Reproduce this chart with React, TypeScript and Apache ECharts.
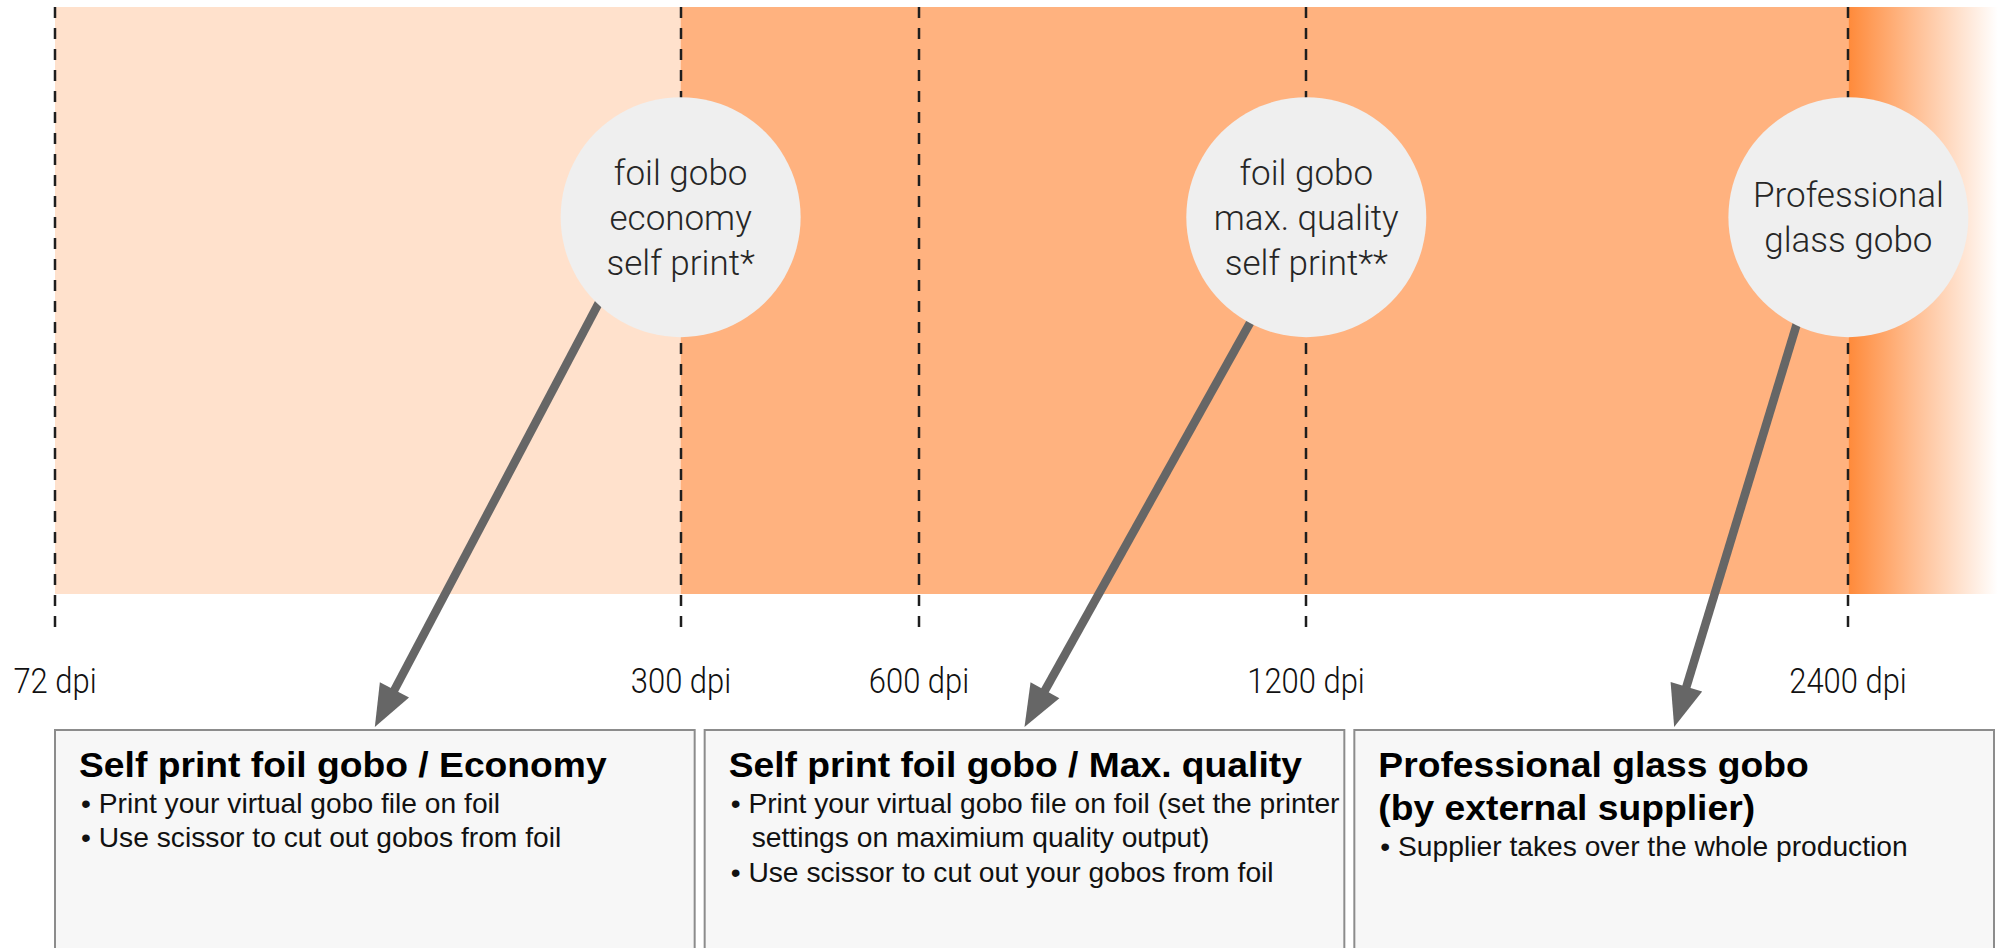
import React, { useEffect, useRef } from "react";
import * as echarts from "echarts";

// ---------------- data ----------------
const dpiLabels = ["72 dpi", "300 dpi", "600 dpi", "1200 dpi", "2400 dpi"];
// position of each resolution stop along the (0–100) resolution axis
const dpiPositions = [0, 32.2, 44.45, 64.4, 92.3];

// resolution bands, given by the stop index where they start / end (-1 = axis end)
const bandFrom = [0, 1, 4];
const bandTo = [1, 4, -1];

// the three production tiers
const tierBubbles = [
  "foil gobo\neconomy\nself print*",
  "foil gobo\nmax. quality\nself print**",
  "Professional\nglass gobo",
];
const tierStop = [1, 3, 4];
const tierTitles = [
  ["Self print foil gobo / Economy"],
  ["Self print foil gobo / Max. quality"],
  ["Professional glass gobo", "(by external supplier)"],
];
const tierBullets = [
  [["Print your virtual gobo file on foil"], ["Use scissor to cut out gobos from foil"]],
  [
    ["Print your virtual gobo file on foil (set the printer", "settings on maximium quality output)"],
    ["Use scissor to cut out your gobos from foil"],
  ],
  [["Supplier takes over the whole production"]],
];

// ---------------- layout / style ----------------
const L = {
  bubbleY: 0.642, // bubble centre in band (y-axis) units
  bubbleR: 120,
  dashExtend: 43,
  labelOffset: 87,
  boxOffset: 136,
  boxGap: 10,
  boxInset: 4,
  arrowAngles: [134, 118, 116],
};

const LIGHT = "'Roboto', 'Liberation Sans', sans-serif";
const SANS = "'Liberation Sans', Arial, sans-serif";

export default function App() {
  const ref = useRef<HTMLDivElement>(null);

  useEffect(() => {
    if (!ref.current) return;
    const chart = echarts.init(ref.current, undefined, { renderer: "svg" });

    const bandFills: any[] = [
      "#FFE1CC",
      "#FFB27F",
      new echarts.graphic.LinearGradient(0, 0, 1, 0, [
        { offset: 0, color: "#FF8A3A" },
        { offset: 0.5, color: "#FFC59E" },
        { offset: 1, color: "#FFFFFF" },
      ]),
    ];

    const boxGeom = (params: any, i: number) => {
      const cs = params.coordSys;
      const w = (cs.width - L.boxInset - 2 * L.boxGap) / 3;
      const x0 = cs.x + i * (w + L.boxGap);
      const top = cs.y + cs.height + L.boxOffset;
      return { x0, w, top };
    };

    const option: any = {
      animation: false,
      backgroundColor: "#ffffff",
      grid: { left: 55, right: 6, top: 7, bottom: 354 },
      xAxis: { type: "value", min: 0, max: 100, show: false },
      yAxis: { type: "value", min: 0, max: 1, show: false },
      series: [
        {
          type: "custom",
          name: "bands",
          z: 1,
          silent: true,
          encode: { x: [0, 1] },
          data: bandFrom.map((f, i) => [
            dpiPositions[f],
            bandTo[i] < 0 ? 100 : dpiPositions[bandTo[i]],
            i,
          ]),
          renderItem: (params: any, api: any) => {
            const p0 = api.coord([api.value(0), 1]);
            const p1 = api.coord([api.value(1), 0]);
            return {
              type: "rect",
              shape: { x: p0[0], y: p0[1], width: p1[0] - p0[0], height: p1[1] - p0[1] },
              style: { fill: bandFills[api.value(2)] },
            };
          },
        },
        {
          type: "custom",
          name: "stops",
          z: 2,
          silent: true,
          encode: { x: 0 },
          data: dpiPositions.map((p, i) => [p, i]),
          renderItem: (params: any, api: any) => {
            const t = api.coord([api.value(0), 1]);
            const b = api.coord([api.value(0), 0]);
            const x = Math.round(t[0]);
            return {
              type: "group",
              children: [
                {
                  type: "line",
                  shape: { x1: x, y1: t[1], x2: x, y2: b[1] + L.dashExtend },
                  style: { stroke: "#1E1E1E", lineWidth: 2.5, lineDash: [11, 10] },
                },
                {
                  type: "text",
                  x: x,
                  y: b[1] + L.labelOffset,
                  scaleX: 0.86,
                  style: {
                    text: dpiLabels[api.value(1)],
                    fontFamily: LIGHT,
                    fontWeight: 300,
                    fontSize: 36,
                    fill: "#111111",
                    align: "center",
                    verticalAlign: "middle",
                  },
                },
              ],
            };
          },
        },
        {
          type: "custom",
          name: "arrows",
          z: 3,
          silent: true,
          encode: { x: 0 },
          data: tierStop.map((s, i) => [dpiPositions[s], i]),
          renderItem: (params: any, api: any) => {
            const i = api.value(1);
            const c = api.coord([api.value(0), L.bubbleY]);
            const a = (L.arrowAngles[i] * Math.PI) / 180;
            const r = L.bubbleR - 4;
            const sx = c[0] + r * Math.cos(a);
            const sy = c[1] + r * Math.sin(a);
            const g = boxGeom(params, i);
            const tx = g.x0 + g.w / 2;
            const ty = g.top - 3;
            const dx = tx - sx;
            const dy = ty - sy;
            const len = Math.sqrt(dx * dx + dy * dy);
            const ux = dx / len;
            const uy = dy / len;
            const headLen = 42;
            const halfW = 16.5;
            const bx = tx - ux * headLen;
            const by = ty - uy * headLen;
            return {
              type: "group",
              children: [
                {
                  type: "line",
                  shape: { x1: sx, y1: sy, x2: bx + ux * 2, y2: by + uy * 2 },
                  style: { stroke: "#666666", lineWidth: 8.5 },
                },
                {
                  type: "polygon",
                  shape: {
                    points: [
                      [tx, ty],
                      [bx - uy * halfW, by + ux * halfW],
                      [bx + uy * halfW, by - ux * halfW],
                    ],
                  },
                  style: { fill: "#666666" },
                },
              ],
            };
          },
        },
        {
          type: "custom",
          name: "bubbles",
          z: 4,
          silent: true,
          encode: { x: 0 },
          data: tierStop.map((s, i) => [dpiPositions[s], i]),
          renderItem: (params: any, api: any) => {
            const c = api.coord([api.value(0), L.bubbleY]);
            return {
              type: "group",
              children: [
                {
                  type: "circle",
                  shape: { cx: c[0], cy: c[1], r: L.bubbleR },
                  style: { fill: "#EFEFEF" },
                },
                {
                  type: "text",
                  x: c[0],
                  y: c[1] + 1,
                  style: {
                    text: tierBubbles[api.value(1)],
                    fontFamily: LIGHT,
                    fontWeight: 300,
                    fontSize: 35,
                    lineHeight: 45,
                    fill: "#262626",
                    align: "center",
                    verticalAlign: "middle",
                  },
                },
              ],
            };
          },
        },
        {
          type: "custom",
          name: "boxes",
          z: 5,
          silent: true,
          encode: { x: 0 },
          data: tierStop.map((s, i) => [dpiPositions[s], i]),
          renderItem: (params: any, api: any) => {
            const i = api.value(1);
            const g = boxGeom(params, i);
            const children: any[] = [
              {
                type: "rect",
                shape: { x: g.x0, y: g.top, width: g.w, height: 400 },
                style: { fill: "#F7F7F7", stroke: "#8C8C8C", lineWidth: 2 },
              },
            ];
            const tx = g.x0 + 24;
            let y = g.top + 35;
            tierTitles[i].forEach((t, k) => {
              if (k > 0) y += 43;
              children.push({
                type: "text",
                x: tx,
                y,
                scaleX: 1.035,
                style: {
                  text: t,
                  fontFamily: SANS,
                  fontWeight: "bold",
                  fontSize: 36,
                  fill: "#000000",
                  align: "left",
                  verticalAlign: "middle",
                },
              });
            });
            y += 4;
            tierBullets[i].forEach((lines) => {
              lines.forEach((ln, k) => {
                y += 34.5;
                children.push({
                  type: "text",
                  x: k === 0 ? tx + 2 : tx + 23,
                  y,
                  scaleX: 1.045,
                  style: {
                    text: k === 0 ? "\u2022 " + ln : ln,
                    fontFamily: SANS,
                    fontSize: 27,
                    fill: "#111111",
                    align: "left",
                    verticalAlign: "middle",
                  },
                });
              });
            });
            return { type: "group", children };
          },
        },
      ],
    };

    chart.setOption(option);
    return () => chart.dispose();
  }, []);

  return (
    <div
      ref={ref}
      style={{ position: "absolute", left: 0, top: 0, width: 2004, height: 948 }}
    />
  );
}
